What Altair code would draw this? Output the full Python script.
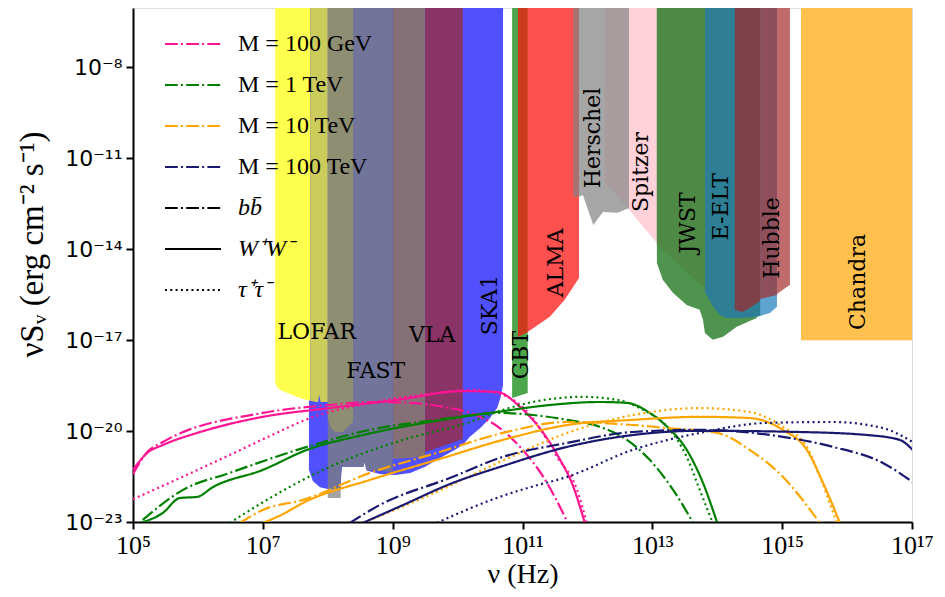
import altair as alt
import pandas as pd

# ---------------- axes (log10 units) ----------------
X_DOMAIN = (5.0, 17.0)
Y_DOMAIN = (-23.0, -6.04)
X_TICKS = [5, 7, 9, 11, 13, 15, 17]
Y_TICKS = [-23, -20, -17, -14, -11, -8]

MASSES = ["M = 100 GeV", "M = 1 TeV", "M = 10 TeV", "M = 100 TeV"]
MASS_COLORS = ["#ff1493", "#008000", "#ffa500", "#191970"]
CHANNELS = ["bb̄", "W⁺W⁻", "τ⁺τ⁻"]
CHANNEL_DASH = [[12.8, 3.2, 2, 3.2], [1, 0], [2, 3.3]]

# ---------------- DM spectra: (log10 nu [Hz], log10 nuS [erg cm^-2 s^-1]) ----------------
M100GEV_BB = [(5.00, -21.42), (5.22, -20.69), (5.46, -20.36), (7.00, -19.40), (8.03, -19.14),
              (8.65, -19.04), (9.27, -19.07), (9.78, -19.20), (10.19, -19.40), (10.65, -19.90),
              (10.96, -20.52), (11.32, -21.51), (11.70, -23.03)]
M100GEV_WW = [(5.00, -21.28), (5.22, -20.72), (5.46, -20.46), (5.99, -20.06), (7.00, -19.53),
              (8.03, -19.24), (9.07, -18.97), (10.08, -18.68), (10.61, -18.71), (10.96, -19.20),
              (11.32, -20.06), (11.58, -20.95), (11.76, -21.71), (11.96, -23.03)]
M100GEV_TT = [(5.00, -22.25), (5.72, -21.55), (6.49, -20.79), (7.11, -20.16), (7.73, -19.57),
              (8.65, -19.07), (9.68, -18.74), (10.19, -18.64), (10.70, -18.81), (11.12, -19.47),
              (11.53, -20.85), (11.84, -21.94), (11.99, -23.03)]

M1TEV_BB = [(5.15, -22.93), (5.77, -21.94), (6.49, -21.38), (7.68, -20.52), (8.65, -19.96),
            (9.68, -19.63), (10.61, -19.40), (11.16, -19.47), (11.69, -19.63), (12.19, -19.86),
            (12.61, -20.29), (12.96, -20.95), (13.32, -21.94), (13.63, -23.03)]
M1TEV_WW = [(5.11, -23.03), (5.46, -22.70), (5.72, -22.21), (5.99, -22.17), (6.23, -21.85),
            (7.00, -21.28), (7.68, -20.62), (8.54, -20.13), (9.57, -19.70), (10.61, -19.37),
            (11.42, -19.14), (12.19, -19.04), (12.61, -19.07), (12.96, -19.40), (13.23, -19.86),
            (13.53, -20.62), (13.78, -21.71), (14.00, -23.03)]
M1TEV_TT = [(6.49, -23.03), (7.11, -22.21), (8.03, -21.18), (9.07, -20.35), (10.19, -19.70),
            (10.70, -19.30), (11.16, -19.04), (11.93, -18.87), (12.46, -18.97), (12.86, -19.30),
            (13.23, -19.86), (13.53, -20.85), (13.73, -21.94), (13.93, -23.03)]

M10TEV_BB = [(6.65, -23.03), (7.00, -22.60), (7.62, -22.27), (8.65, -21.38), (9.68, -20.72),
             (10.70, -20.06), (11.69, -19.70), (12.70, -19.80), (13.23, -19.90), (14.00, -20.06),
             (14.50, -20.62), (15.01, -21.51), (15.58, -23.03)]
M10TEV_WW = [(7.00, -23.03), (7.30, -22.75), (7.62, -22.37), (8.65, -21.61), (9.68, -20.95),
             (10.70, -20.29), (11.69, -19.80), (12.70, -19.63), (13.73, -19.53), (14.50, -19.57),
             (15.01, -19.96), (15.38, -20.62), (15.63, -21.71), (15.89, -23.03)]
M10TEV_TT = [(8.54, -23.03), (9.57, -22.11), (10.65, -21.02), (11.69, -20.06), (12.70, -19.47),
             (13.73, -19.24), (14.50, -19.37), (15.01, -19.86), (15.38, -20.52), (15.58, -21.51),
             (15.84, -23.03)]

M100TEV_BB = [(8.34, -23.03), (8.80, -22.44), (9.88, -21.55), (10.70, -20.85), (11.69, -20.39),
              (12.70, -20.03), (13.73, -19.96), (15.01, -20.19), (15.78, -20.52), (16.55, -21.05),
              (17.01, -21.68)]
M100TEV_WW = [(8.54, -23.03), (9.16, -22.44), (9.88, -21.75), (10.70, -21.15), (11.69, -20.52),
              (12.70, -20.13), (13.73, -19.99), (15.27, -20.03), (16.31, -20.13), (16.81, -20.29),
              (17.01, -20.62)]
M100TEV_TT = [(9.68, -23.03), (10.65, -22.17), (11.12, -21.85), (11.69, -21.51), (12.70, -20.62),
              (13.73, -20.06), (14.77, -19.73), (15.78, -19.70), (16.55, -19.90), (17.01, -20.36)]

CURVES = [
    (MASSES[0], CHANNELS[0], M100GEV_BB), (MASSES[0], CHANNELS[1], M100GEV_WW), (MASSES[0], CHANNELS[2], M100GEV_TT),
    (MASSES[1], CHANNELS[0], M1TEV_BB), (MASSES[1], CHANNELS[1], M1TEV_WW), (MASSES[1], CHANNELS[2], M1TEV_TT),
    (MASSES[2], CHANNELS[0], M10TEV_BB), (MASSES[2], CHANNELS[1], M10TEV_WW), (MASSES[2], CHANNELS[2], M10TEV_TT),
    (MASSES[3], CHANNELS[0], M100TEV_BB), (MASSES[3], CHANNELS[1], M100TEV_WW), (MASSES[3], CHANNELS[2], M100TEV_TT),
]

# ---------------- telescope sensitivity regions: lower edge (log10 nu, log10 nuS), upper edge = top ----------------
FAST_LOW = [(8.00, -22.21), (8.20, -22.21)]
SKA1 = [(7.71, -21.28), (7.77, -21.65), (7.88, -21.85), (8.00, -21.91), (8.19, -21.91), (8.22, -21.18),
        (8.55, -21.18), (8.57, -21.02), (8.60, -21.30), (8.80, -21.42), (9.04, -21.45), (9.27, -21.38),
        (9.50, -21.18), (9.73, -20.89), (9.96, -20.62), (10.08, -20.46), (10.19, -20.19), (10.35, -19.90),
        (10.50, -19.57), (10.61, -19.24), (10.66, -18.91), (10.70, -18.48)]
GBT = [(10.84, -18.91), (11.08, -18.74)]
FAST_SKA = [(8.00, -21.91), (8.19, -21.91), (8.21, -21.18), (8.55, -21.18), (8.57, -21.02), (8.59, -21.28),
            (9.00, -21.35)]
ALMA = [(10.93, -16.89), (11.08, -16.73), (11.42, -16.23), (11.65, -15.67), (11.87, -14.95)]
HERSCHEL = [(11.87, -12.27), (11.93, -12.21), (12.09, -13.20), (12.24, -12.77), (12.47, -12.80), (12.64, -12.64)]
SPITZER = [(12.64, -12.70), (13.07, -13.79)]
EELT = [(14.30, -16.23), (14.50, -16.27), (14.66, -16.20), (14.81, -16.10), (14.92, -15.90)]
JWST = [(13.07, -14.45), (13.16, -15.01), (13.32, -15.44), (13.53, -15.84), (13.73, -16.00), (13.78, -16.33),
        (13.81, -16.76), (13.93, -16.99), (14.09, -16.89), (14.30, -16.56), (14.50, -16.37), (14.61, -16.27)]
CHANDRA = [(15.29, -17.0), (17.0, -17.0)]
LOFAR = [(7.19, -18.40), (7.22, -18.55), (7.30, -18.68), (7.42, -18.78), (7.57, -18.91), (7.73, -19.00)]
LOFAR_FAST = [(7.73, -19.00), (7.82, -19.04), (7.85, -19.04), (7.87, -18.80), (7.89, -19.04), (8.00, -19.04)]
LOFAR_FAST_SKA = [(8.00, -19.57), (8.05, -19.90), (8.11, -20.03), (8.23, -20.03), (8.39, -19.70)]
VLA_A = [(9.00, -20.92), (9.50, -20.85)]
VLA_B = [(9.50, -20.69), (9.78, -20.49), (10.08, -20.26)]
GBT_ALMA = [(10.93, -16.89), (11.08, -16.73)]
ALMA_HERSCHEL = [(11.78, -12.27), (11.87, -12.27)]
HERSCHEL_SPITZER = [(12.27, -11.81), (12.64, -12.67)]
JWST_SPITZER = [(13.07, -13.85), (13.81, -15.30)]
EELT_JWST = [(13.81, -15.41), (13.92, -15.84), (14.04, -16.17), (14.15, -16.27), (14.35, -16.27),
             (14.50, -16.25), (14.66, -16.20)]
HUBBLE_A = [(14.27, -16.00), (14.38, -16.07), (14.50, -15.94), (14.66, -15.71)]
HUBBLE_B = [(14.66, -15.64), (14.92, -15.51)]
HUBBLE_C = [(14.92, -15.48), (15.01, -15.34), (15.12, -15.18)]

REGIONS = [
    (FAST_LOW, "#a3a3a3"), (SKA1, "#5050ff"), (GBT, "#4ca64c"), (FAST_SKA, "#72749a"),
    (ALMA, "#ff5050"), (HERSCHEL, "#a6a6a6"), (SPITZER, "#ffd1d8"), (EELT, "#5ea4d0"),
    (JWST, "#4f944e"), (CHANDRA, "#ffc04d"), (LOFAR, "#ffff4d"), (LOFAR_FAST, "#cccc5a"),
    (LOFAR_FAST_SKA, "#8e8e72"), (VLA_A, "#867078"), (VLA_B, "#8a3366"), (GBT_ALMA, "#cc3a1c"),
    (ALMA_HERSCHEL, "#a87272"), (HERSCHEL_SPITZER, "#a89c9e"), (JWST_SPITZER, "#4e8a45"),
    (EELT_JWST, "#2e7f96"), (HUBBLE_A, "#7e414a"), (HUBBLE_B, "#8e4f5c"), (HUBBLE_C, "#c06b6b"),
]

# ---------------- instrument labels ----------------
LABELS_H = ["LOFAR", "FAST", "VLA"]
LABELS_H_X = [7.83, 8.74, 9.61]
LABELS_H_Y = [-16.73, -18.02, -16.83]
LABELS_V = ["SKA1", "GBT", "ALMA", "Herschel", "Spitzer", "JWST", "E-ELT", "Hubble", "Chandra"]
LABELS_V_X = [10.50, 10.98, 11.52, 12.09, 12.83, 13.55, 14.06, 14.84, 16.17]
LABELS_V_Y = [-15.84, -17.49, -14.45, -10.33, -11.45, -13.13, -12.60, -13.63, -15.08]

# ---------------- build ----------------
SUP = str.maketrans("-0123456789", "⁻⁰¹²³⁴⁵⁶⁷⁸⁹")


def tick_expr(ticks):
    parts = [f"datum.value < {10 ** (t + 0.5):g} ? '10{str(t).translate(SUP)}' : " for t in ticks[:-1]]
    return "".join(parts) + f"'10{str(ticks[-1]).translate(SUP)}'"


XS = alt.Scale(type="log", domain=[10 ** X_DOMAIN[0], 10 ** X_DOMAIN[1]], nice=False)
YS = alt.Scale(type="log", domain=[10 ** Y_DOMAIN[0], 10 ** Y_DOMAIN[1]], nice=False)

X_AXIS = alt.Axis(values=[10.0 ** t for t in X_TICKS], labelExpr=tick_expr(X_TICKS), title="ν (Hz)",
                  titleFont="Liberation Serif", titleFontSize=28, titleFontWeight="normal", titleColor="black",
                  titleY=60, titleBaseline="alphabetic",
                  labelFont="Liberation Serif", labelFontSize=26, labelColor="black", labelPadding=3,
                  labelOverlap=False, labelFlush=False, tickSize=7, tickWidth=2, tickColor="black",
                  domainColor="black", domainWidth=2, grid=False)
Y_AXIS = alt.Axis(values=[10.0 ** t for t in Y_TICKS], labelExpr=tick_expr(Y_TICKS),
                  title="νSᵥ (erg cm⁻² s⁻¹)", titleFont="Liberation Serif", titleFontSize=33,
                  titleFontWeight="normal", titleColor="black", titleAngle=270, titleX=-101, titleY=236,
                  titleAlign="center", titleBaseline="middle",
                  labelFont="DejaVu Sans", labelFontSize=22, labelColor="black", labelPadding=4,
                  labelOverlap=False, labelFlush=False, tickSize=7, tickWidth=2, tickColor="black",
                  domainColor="black", domainWidth=2, grid=False)

layers = []
for pts, col in REGIONS:
    df = pd.DataFrame({"nu": [10 ** p[0] for p in pts], "lo": [10 ** p[1] for p in pts],
                       "hi": [10 ** Y_DOMAIN[1]] * len(pts)})
    layers.append(
        alt.Chart(df).mark_area(color=col, opacity=1, clip=True).encode(
            x=alt.X("nu:Q", scale=XS, axis=X_AXIS),
            y=alt.Y("lo:Q", scale=YS, axis=Y_AXIS),
            y2="hi:Q",
        )
    )

rows = []
for mass, chan, pts in CURVES:
    for lx, ly in pts:
        rows.append({"nu": 10 ** lx, "S": 10 ** ly, "mass": mass, "channel": chan})
curve_df = pd.DataFrame(rows)

LEG_PATH = "M-4.67,0L4.67,0"
curves = alt.Chart(curve_df).mark_line(strokeWidth=2.2, clip=True, interpolate="monotone").encode(
    x=alt.X("nu:Q", scale=XS, axis=X_AXIS),
    y=alt.Y("S:Q", scale=YS, axis=Y_AXIS),
    color=alt.Color("mass:N", scale=alt.Scale(domain=MASSES, range=MASS_COLORS),
                    legend=alt.Legend(orient="none", legendX=48, legendY=24, title=None, padding=0,
                                      symbolType=LEG_PATH, symbolSize=144, symbolStrokeWidth=2,
                                      symbolDash=CHANNEL_DASH[0], labelFont="Liberation Serif",
                                      labelFontSize=24, labelColor="black", labelOffset=33,
                                      rowPadding=17, labelLimit=400)),
    strokeDash=alt.StrokeDash("channel:N", scale=alt.Scale(domain=CHANNELS, range=CHANNEL_DASH),
                              legend=alt.Legend(orient="none", legendX=48, legendY=188, title=None, padding=0,
                                                symbolType=LEG_PATH, symbolSize=144, symbolStrokeWidth=2,
                                                symbolStrokeColor="black", labelFont="Liberation Serif",
                                                labelFontStyle="italic", labelFontSize=24, labelColor="black",
                                                labelOffset=33, rowPadding=17, labelLimit=400)),
    detail="channel:N",
)
layers.append(curves)

lab_h = pd.DataFrame({"name": LABELS_H, "nu": [10 ** v for v in LABELS_H_X], "S": [10 ** v for v in LABELS_H_Y]})
lab_v = pd.DataFrame({"name": LABELS_V, "nu": [10 ** v for v in LABELS_V_X], "S": [10 ** v for v in LABELS_V_Y]})
layers.append(
    alt.Chart(lab_h).mark_text(font="DejaVu Serif", fontSize=22, color="black", align="center",
                               baseline="middle").encode(
        x=alt.X("nu:Q", scale=XS, axis=X_AXIS), y=alt.Y("S:Q", scale=YS, axis=Y_AXIS), text="name:N")
)
layers.append(
    alt.Chart(lab_v).mark_text(font="DejaVu Serif", fontSize=22, color="black", align="center",
                               baseline="middle", angle=270).encode(
        x=alt.X("nu:Q", scale=XS, axis=X_AXIS), y=alt.Y("S:Q", scale=YS, axis=Y_AXIS), text="name:N")
)

chart = alt.layer(*layers).properties(
    width=779, height=514,
    autosize=alt.AutoSizeParams(type="none"),
    padding={"left": 125, "top": 0, "right": 25, "bottom": 67},
).configure_view(stroke="black", strokeWidth=2).configure(background="white")

chart.save("out.html", embed_options={"renderer": "svg", "actions": False})
